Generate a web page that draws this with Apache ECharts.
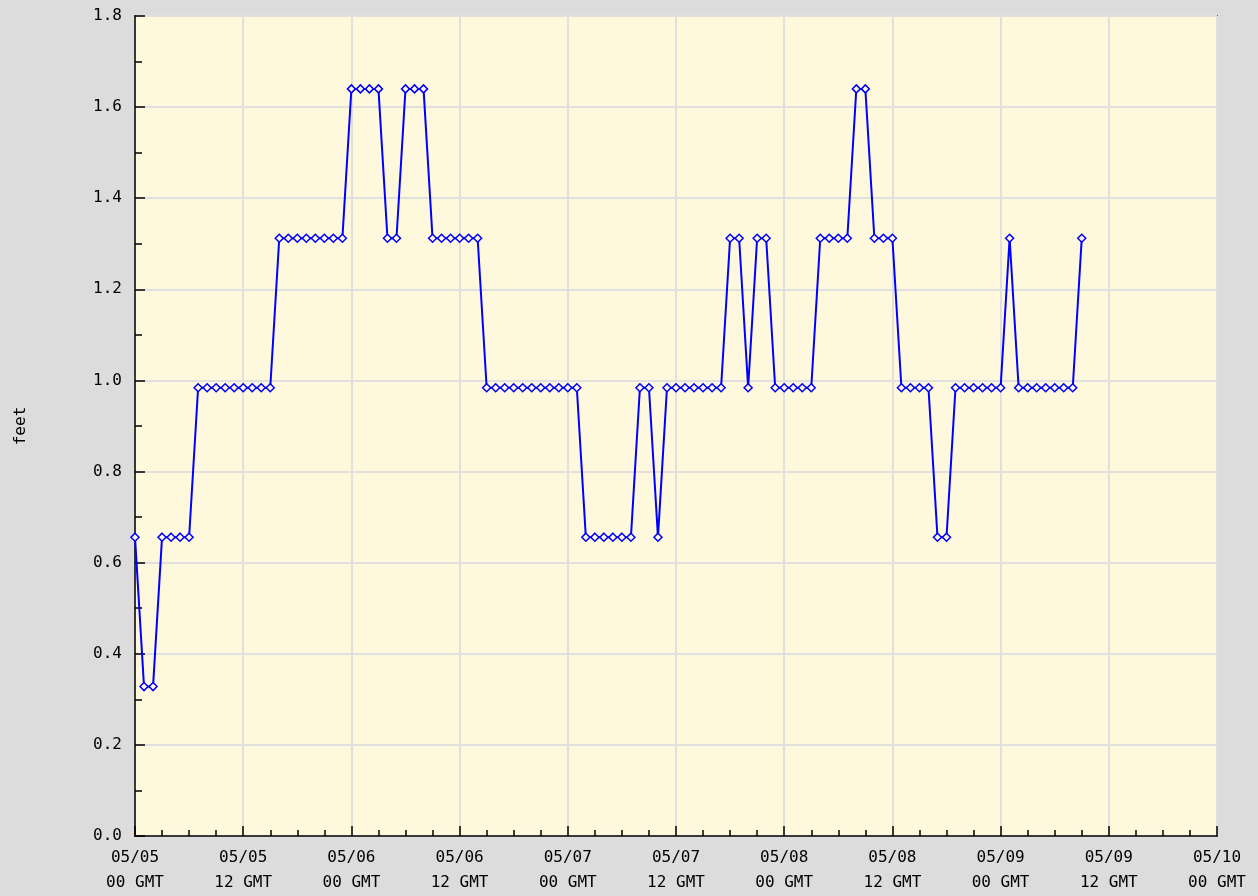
<!DOCTYPE html>
<html>
<head>
<meta charset="utf-8">
<script src="https://cdn.jsdelivr.net/npm/echarts@6/dist/echarts.min.js"></script>
<style>
html, body { margin: 0; padding: 0; background: #dcdcdc; }
#main { width: 1258px; height: 896px; }
</style>
</head>
<body>
<div id="main"></div>
<script>
// hours since 05/05 00 GMT
var hours = [];
for (var i = 0; i <= 105; i++) hours.push(i);

// water level, feet (one reading per hour)
var feet = [
  0.656, 0.328, 0.328, 0.656, 0.656, 0.656, 0.656,
  0.984, 0.984, 0.984, 0.984, 0.984, 0.984, 0.984, 0.984, 0.984,
  1.312, 1.312, 1.312, 1.312, 1.312, 1.312, 1.312, 1.312,
  1.64, 1.64, 1.64, 1.64,
  1.312, 1.312,
  1.64, 1.64, 1.64,
  1.312, 1.312, 1.312, 1.312, 1.312, 1.312,
  0.984, 0.984, 0.984, 0.984, 0.984, 0.984, 0.984, 0.984, 0.984, 0.984, 0.984,
  0.656, 0.656, 0.656, 0.656, 0.656, 0.656,
  0.984, 0.984,
  0.656,
  0.984, 0.984, 0.984, 0.984, 0.984, 0.984, 0.984,
  1.312, 1.312,
  0.984,
  1.312, 1.312,
  0.984, 0.984, 0.984, 0.984, 0.984,
  1.312, 1.312, 1.312, 1.312,
  1.64, 1.64,
  1.312, 1.312, 1.312,
  0.984, 0.984, 0.984, 0.984,
  0.656, 0.656,
  0.984, 0.984, 0.984, 0.984, 0.984, 0.984,
  1.312,
  0.984, 0.984, 0.984, 0.984, 0.984, 0.984, 0.984,
  1.312
];

var tickLabels = [
  '05/05\n00 GMT', '05/05\n12 GMT', '05/06\n00 GMT', '05/06\n12 GMT',
  '05/07\n00 GMT', '05/07\n12 GMT', '05/08\n00 GMT', '05/08\n12 GMT',
  '05/09\n00 GMT', '05/09\n12 GMT', '05/10\n00 GMT'
];

var data = hours.map(function (h, i) { return [h, feet[i]]; });
var font = 'DejaVu Sans Mono';

var chart = echarts.init(document.getElementById('main'));
chart.setOption({
  animation: false,
  backgroundColor: '#dcdcdc',
  grid: {
    left: 135, right: 41, top: 16, bottom: 60,
    show: true,
    backgroundColor: '#fef8dc',
    borderColor: '#000',
    borderWidth: 1.5
  },
  xAxis: {
    type: 'value',
    min: 0, max: 120, interval: 12,
    axisLine: { lineStyle: { color: '#000', width: 1.5 } },
    axisTick: { inside: true, length: 10, lineStyle: { color: '#000', width: 1.5 } },
    minorTick: { show: true, splitNumber: 4, length: 6, lineStyle: { color: '#000', width: 1.5 } },
    splitLine: { show: true, lineStyle: { color: '#e0e0e0', width: 2 } },
    axisLabel: {
      margin: 9,
      fontFamily: font, fontSize: 16, color: '#000', lineHeight: 25,
      showMinLabel: true, showMaxLabel: true,
      formatter: function (v) { return tickLabels[Math.round(v / 12)]; }
    }
  },
  yAxis: {
    type: 'value',
    min: 0, max: 1.8, interval: 0.2,
    name: 'feet',
    nameLocation: 'middle',
    nameGap: 106,
    nameRotate: 90,
    nameTextStyle: { fontFamily: font, fontSize: 16, color: '#000' },
    axisLine: { show: true, lineStyle: { color: '#000', width: 1.5 } },
    axisTick: { show: true, inside: true, length: 10, lineStyle: { color: '#000', width: 1.5 } },
    minorTick: { show: true, splitNumber: 2, length: 7, lineStyle: { color: '#000', width: 1.5 } },
    splitLine: { show: true, lineStyle: { color: '#e0e0e0', width: 2 } },
    axisLabel: {
      margin: 13,
      fontFamily: font, fontSize: 16, color: '#000',
      formatter: function (v) { return v.toFixed(1); }
    }
  },
  series: [{
    type: 'line',
    data: data,
    symbol: 'diamond',
    symbolSize: 8,
    lineStyle: { color: '#0000ff', width: 2 },
    itemStyle: { color: '#fef8dc', borderColor: '#0000ff', borderWidth: 1.5 }
  }]
});
</script>
</body>
</html>
